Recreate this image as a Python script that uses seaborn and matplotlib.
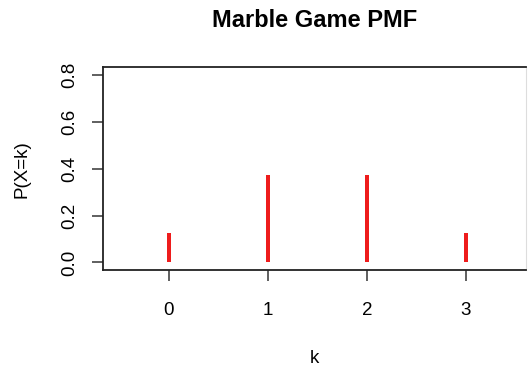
import matplotlib
matplotlib.use("Agg")
import matplotlib.pyplot as plt
import seaborn as sns
import pandas as pd

# Number of winning marbles and their probabilities
k_values = [0, 1, 2, 3]
probabilities = [0.125, 0.375, 0.375, 0.125]
y_ticks = [0.0, 0.2, 0.4, 0.6, 0.8]
y_tick_labels = ["0.0", "0.2", "0.4", "0.6", "0.8"]

sns.set_style("white")
plt.rcParams["font.family"] = ["Liberation Sans", "DejaVu Sans"]
plt.rcParams["text.color"] = "black"
plt.rcParams["axes.labelcolor"] = "black"
plt.rcParams["xtick.color"] = "black"
plt.rcParams["ytick.color"] = "black"

df = pd.DataFrame({"k": k_values, "p": probabilities})

fig = plt.figure(figsize=(5.29, 3.67), dpi=100)
ax = fig.add_axes([0.1947, 0.2643, 0.8, 0.5523])

sns.barplot(data=df, x="k", y="p", native_scale=True, width=0.037,
            color="#ee1c1c", saturation=1, ax=ax, edgecolor="none")

ax.set_xlim(-0.667, 3.61)
ax.set_ylim(-0.032, 0.832)
ax.set_xticks(k_values)
ax.set_xticklabels([str(k) for k in k_values])
ax.set_yticks(y_ticks)
ax.set_yticklabels(y_tick_labels, rotation=90, va="center")

for side in ["left", "bottom", "top"]:
    ax.spines[side].set_visible(True)
    ax.spines[side].set_color("#222222")
    ax.spines[side].set_linewidth(1.3)
ax.spines["right"].set_color("#dddddd")
ax.spines["right"].set_linewidth(0.8)

ax.tick_params(axis="both", which="both", direction="out", length=8,
               width=1.2, color="#444444", labelsize=13.5, pad=10,
               left=True, bottom=True)
ax.tick_params(axis="x", pad=15)

ax.set_xlabel("k", fontsize=13.5, labelpad=22)
ax.set_ylabel("P(X=k)", fontsize=13.5, labelpad=22)
ax.set_title("Marble Game PMF", fontsize=17, fontweight="bold", pad=29)

fig.savefig("out.png", dpi=100)
